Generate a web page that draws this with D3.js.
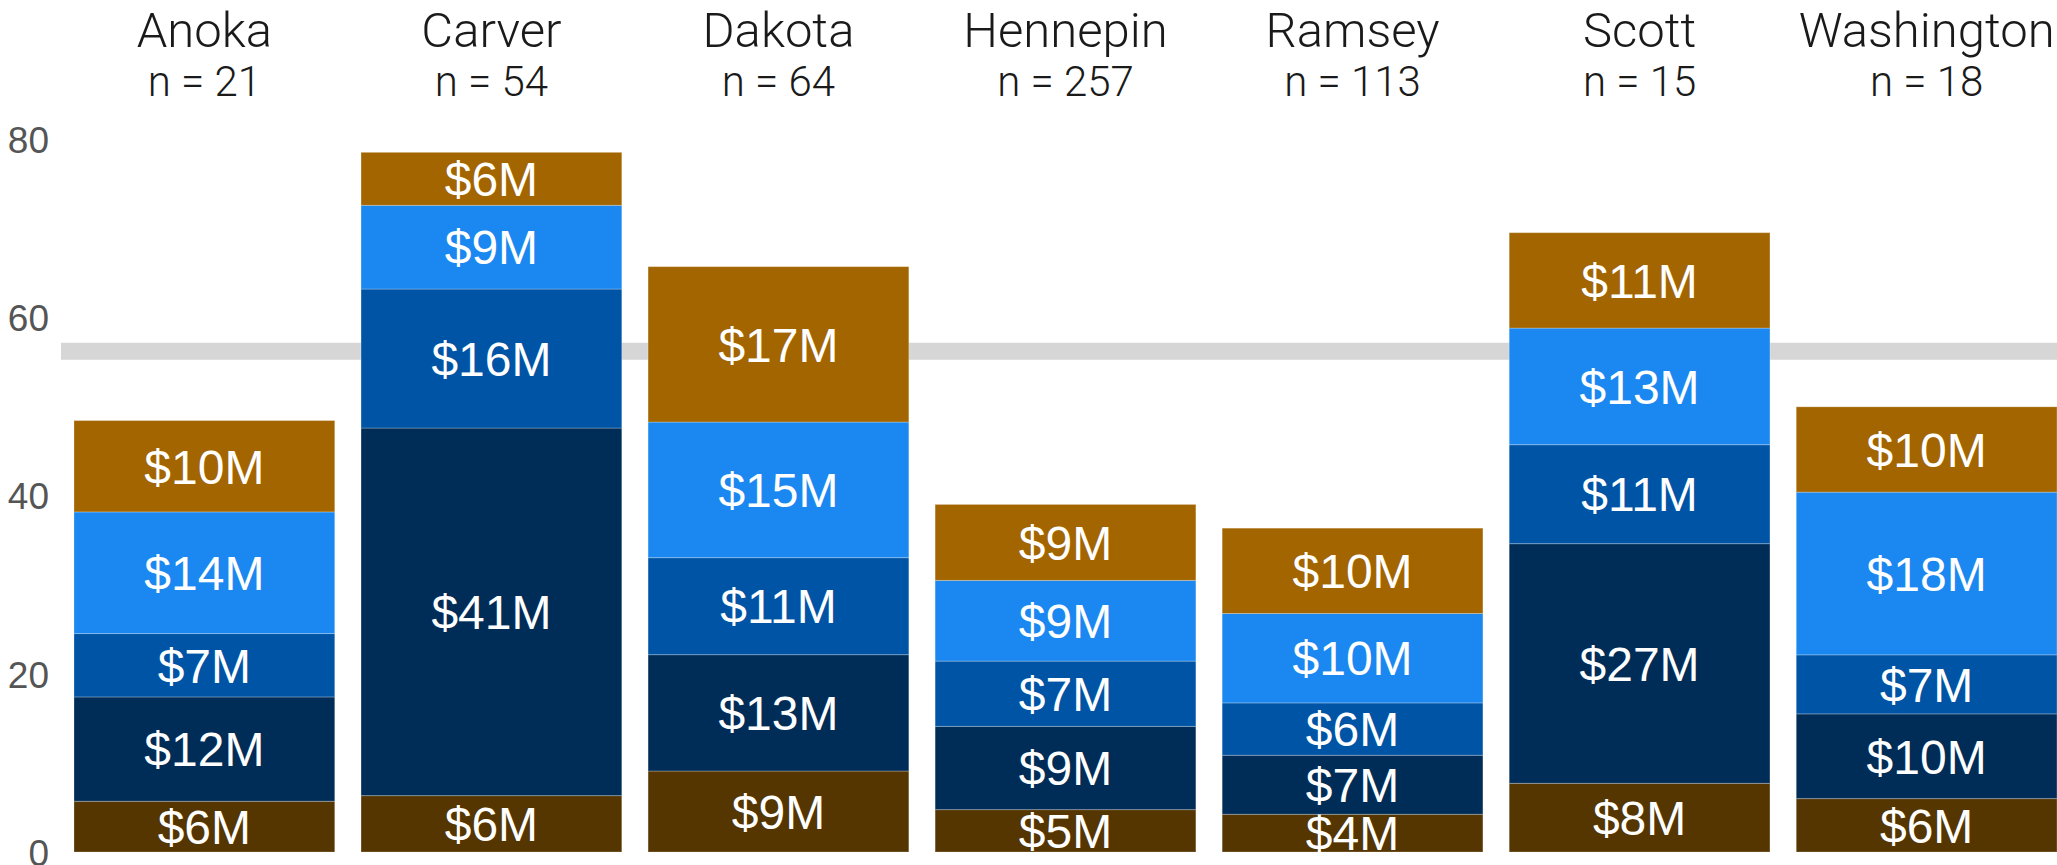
<!DOCTYPE html>
<html>
<head>
<meta charset="utf-8">
<script src="https://cdn.jsdelivr.net/npm/d3@7"></script>
<style>
  html, body { margin: 0; padding: 0; background: #fff; }
  svg { display: block; }
</style>
</head>
<body>
<div id="chart"></div>
<script>
// Counties and number of projects
const counties = ['Anoka', 'Carver', 'Dakota', 'Hennepin', 'Ramsey', 'Scott', 'Washington'];
const counts = [21, 54, 64, 257, 113, 15, 18];

// Segment values in $M, stacked bottom -> top
const brownVals  = [5.69, 6.32, 9.08, 4.75, 4.23, 7.70, 5.99];
const navyVals   = [11.70, 41.23, 13.05, 9.34, 6.62, 26.88, 9.50];
const midVals    = [7.11, 15.59, 10.88, 7.32, 5.87, 11.10, 6.62];
const brightVals = [13.64, 9.39, 15.21, 9.05, 10.03, 13.08, 18.25];
const orangeVals = [10.25, 5.94, 17.43, 8.52, 9.57, 10.70, 9.57];

const seriesKeys = ['brown', 'navy', 'mid', 'bright', 'orange'];
const seriesColors = ['#553500', '#002d57', '#0054a5', '#1a88f0', '#a36500'];

// Average reference line
const refValue = 56.15;
const yTicks = [0, 20, 40, 60, 80];

const width = 2057;
const height = 865;

const svg = d3.select('#chart').append('svg')
    .attr('width', width)
    .attr('height', height);

// table for the stack
const table = counties.map((c, i) => ({
    county: c,
    n: counts[i],
    brown: brownVals[i],
    navy: navyVals[i],
    mid: midVals[i],
    bright: brightVals[i],
    orange: orangeVals[i]
}));

const x = d3.scaleBand()
    .domain(counties)
    .range([74, 2057])
    .paddingInner(0.0916)
    .paddingOuter(0);

const y = d3.scaleLinear()
    .domain([0, 80])
    .range([852, 138.7]);

const color = d3.scaleOrdinal().domain(seriesKeys).range(seriesColors);

// Y axis, labels only
const yAxis = svg.append('g')
    .attr('transform', 'translate(49,0)')
    .call(d3.axisLeft(y).tickValues(yTicks).tickSize(0).tickPadding(0));
yAxis.select('.domain').remove();
yAxis.selectAll('text')
    .attr('fill', '#555')
    .attr('dy', '0.36em')
    .style('font-family', '"Liberation Sans Narrow", "Liberation Sans", Arial, sans-serif')
    .style('font-size', '37px');

// Reference line (behind bars)
svg.append('line')
    .attr('x1', 61)
    .attr('x2', width)
    .attr('y1', y(refValue))
    .attr('y2', y(refValue))
    .attr('stroke', '#d6d6d6')
    .attr('stroke-width', 17);

// Stacked bars
const stacked = d3.stack().keys(seriesKeys)(table);

const layers = svg.append('g')
    .selectAll('g')
    .data(stacked)
    .join('g')
    .attr('fill', d => color(d.key));

layers.selectAll('rect')
    .data(d => d)
    .join('rect')
    .attr('x', d => x(d.data.county))
    .attr('y', d => y(d[1]))
    .attr('width', x.bandwidth())
    .attr('height', d => y(d[0]) - y(d[1]))
    .attr('stroke', 'rgba(255,255,255,0.25)')
    .attr('stroke-width', 1);

// Value labels
layers.selectAll('text')
    .data(d => d)
    .join('text')
    .attr('x', d => x(d.data.county) + x.bandwidth() / 2)
    .attr('y', d => (y(d[0]) + y(d[1])) / 2)
    .attr('dy', '0.36em')
    .attr('text-anchor', 'middle')
    .attr('fill', '#fff')
    .style('font-family', '"Liberation Sans", Arial, sans-serif')
    .style('font-size', '48px')
    .text(d => `$${Math.round(d[1] - d[0])}M`);

// County headers
const headers = svg.append('g')
    .selectAll('g')
    .data(table)
    .join('g')
    .attr('transform', d => `translate(${x(d.county) + x.bandwidth() / 2},0)`);

headers.append('text')
    .attr('y', 47)
    .attr('text-anchor', 'middle')
    .attr('fill', '#1a1a1a')
    .style('font-family', 'Roboto, "Liberation Sans", Arial, sans-serif')
    .style('font-weight', 300)
    .style('font-size', '49px')
    .text(d => d.county);

headers.append('text')
    .attr('y', 96)
    .attr('text-anchor', 'middle')
    .attr('fill', '#1a1a1a')
    .style('font-family', 'Roboto, "Liberation Sans", Arial, sans-serif')
    .style('font-weight', 300)
    .style('font-size', '42px')
    .text(d => `n = ${d.n}`);
</script>
</body>
</html>
